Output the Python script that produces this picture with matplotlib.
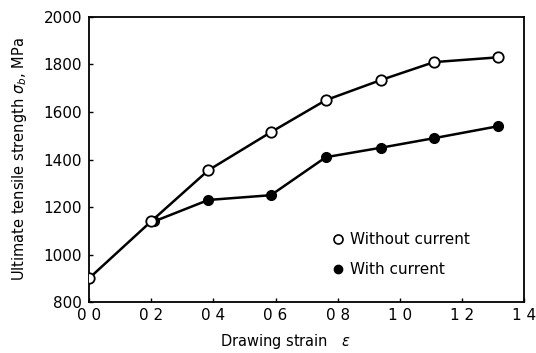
import numpy as np
import matplotlib.pyplot as plt
from matplotlib.lines import Line2D

# strain values and strength (MPa)
strain_wo = [0.0, 0.2, 0.384, 0.585, 0.762, 0.94, 1.11, 1.315]
uts_wo = [900, 1140, 1355, 1515, 1650, 1735, 1810, 1830]
strain_w = [0.21, 0.384, 0.585, 0.762, 0.94, 1.11, 1.315]
uts_w = [1140, 1230, 1250, 1410, 1450, 1490, 1540]

xticks = [0.0, 0.2, 0.4, 0.6, 0.8, 1.0, 1.2, 1.4]
xlabels = ["0 0", "0 2", "0 4", "0 6", "0 8", "1 0", "1 2", "1 4"]
yticks = [800, 1000, 1200, 1400, 1600, 1800, 2000]

plt.rcParams['font.family'] = ['DejaVu Sans']
plt.rcParams['mathtext.fontset'] = 'dejavusans'

fig = plt.figure(figsize=(5.36, 3.53), dpi=100)
ax = fig.add_axes([0.166, 0.144, 0.812, 0.808])

ax.plot(strain_w, uts_w, '-o', color='black', lw=1.8, ms=7,
        mfc='black', mec='black', zorder=2)
ax.plot(strain_wo, uts_wo, '-o', color='black', lw=1.8, ms=7.5,
        mfc='white', mec='black', mew=1.3, zorder=3)

ax.set_xlim(0, 1.4)
ax.set_ylim(800, 2000)
ax.set_xticks(xticks)
ax.set_xticklabels(xlabels)
ax.set_yticks(yticks)
ax.tick_params(direction='in', length=3, width=1, labelsize=11)
ax.tick_params(axis='x', pad=4)
ax.tick_params(axis='y', pad=5)
for s in ax.spines.values():
    s.set_linewidth(1.3)

ax.set_xlabel(r'Drawing strain   $\varepsilon$', fontsize=10.5)
ax.set_ylabel(r'Ultimate tensile strength $\sigma_b$, MPa', fontsize=10.5)
ax.xaxis.set_label_coords(0.45, -0.105)
ax.yaxis.set_label_coords(-0.138, 0.5)

# legend: markers only, no line
handles = [Line2D([], [], ls='none', marker='o', ms=6.5, mfc='white', mec='black', mew=1.2),
           Line2D([], [], ls='none', marker='o', ms=6, mfc='black', mec='black')]
ax.legend(handles, ['Without current', 'With current'], loc='lower left',
          bbox_to_anchor=(0.53, 0.04), frameon=False, fontsize=11,
          handlelength=0.6, handletextpad=0.5, labelspacing=0.95)

fig.savefig('out.png', dpi=100)
